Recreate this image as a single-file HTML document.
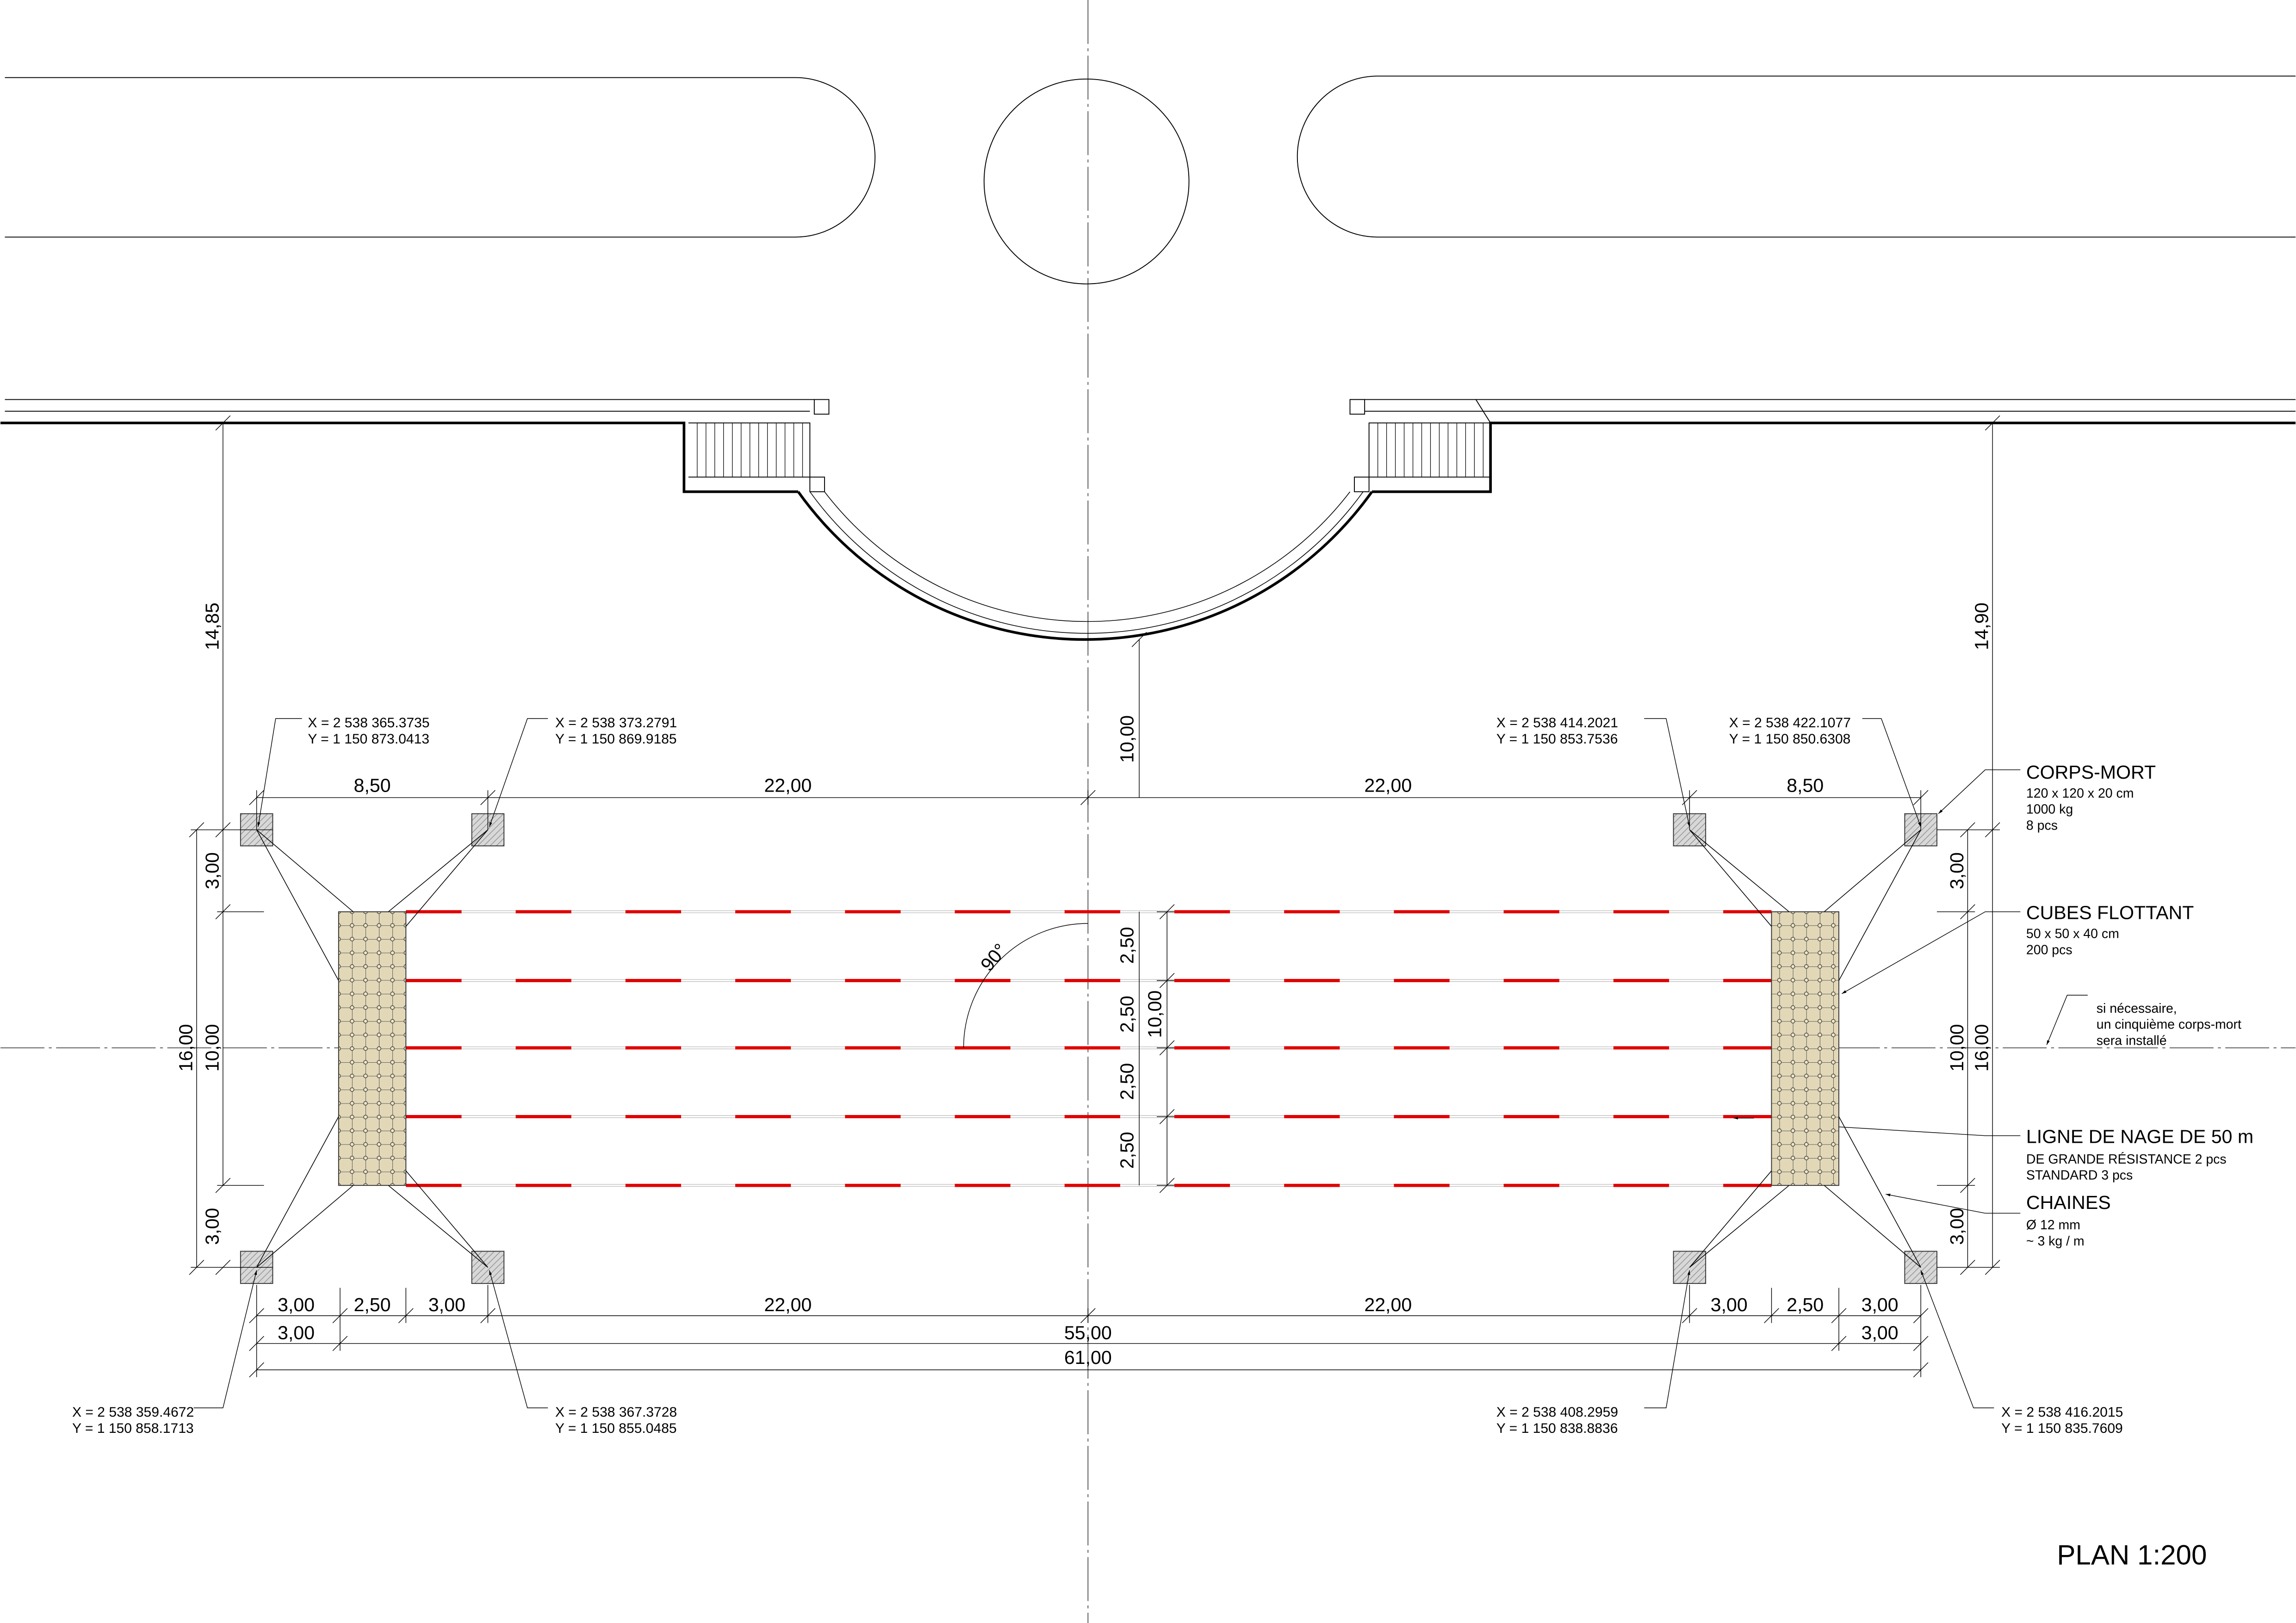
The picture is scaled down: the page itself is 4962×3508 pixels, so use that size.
<!DOCTYPE html>
<html><head><meta charset="utf-8"><style>html,body{margin:0;padding:0;background:#fff}svg{display:block}text{font-family:"Liberation Sans",sans-serif;fill:#000}</style></head>
<body>
<svg width="4962" height="3508" viewBox="0 0 1568 1109" xmlns="http://www.w3.org/2000/svg">
<defs>
<pattern id="hat" width="3" height="3" patternUnits="userSpaceOnUse" patternTransform="rotate(45)">
<rect width="3" height="3" fill="#d8d8d8"/><line x1="0" y1="0" x2="0" y2="3" stroke="#888" stroke-width="0.8"/></pattern>
<pattern id="flt" x="231" y="623" width="9.2" height="9.35" patternUnits="userSpaceOnUse">
<rect width="9.2" height="9.35" fill="#e2d8b8"/>
<path d="M0 0H9.2M0 0V9.35" stroke="#333" stroke-width="0.5"/>
<circle cx="0" cy="0" r="1.3" fill="#efe6c8" stroke="#333" stroke-width="0.4"/>
<circle cx="9.2" cy="0" r="1.3" fill="#efe6c8" stroke="#333" stroke-width="0.4"/>
<circle cx="0" cy="9.35" r="1.3" fill="#efe6c8" stroke="#333" stroke-width="0.4"/>
<circle cx="9.2" cy="9.35" r="1.3" fill="#efe6c8" stroke="#333" stroke-width="0.4"/>
</pattern>
<marker id="ar" viewBox="0 0 10 10" refX="10" refY="5" markerWidth="7" markerHeight="7" orient="auto-start-reverse"><path d="M0 2L10 5L0 8z" fill="#000"/></marker>
</defs>
<g fill="none" stroke="#000" stroke-width="0.6">
<line x1="743" y1="0" x2="743" y2="1109" stroke="#555" stroke-dasharray="30 3 2 3"/>
<line x1="0" y1="716" x2="1568" y2="716" stroke="#555" stroke-dasharray="30 3 2 3"/>
<path d="M3 53H543A54.5 54.5 0 0 1 543 162H3"/>
<path d="M1568 52H941A55 55 0 0 0 941 162H1568"/>
<circle cx="742" cy="124" r="70"/>
<path d="M3 273H556M3 281H553"/>
<path d="M0 289H467V336H545" stroke-width="1.8"/>
<rect x="556" y="273" width="10" height="10"/>
<rect x="553" y="326" width="10" height="10"/>
<path d="M470 289H553V326H470"/>
<path d="M476 289V326M482 289V326M488 289V326M494 289V326M500 289V326M506 289V326M512 289V326M518 289V326M524 289V326M530 289V326M536 289V326M542 289V326M548 289V326" stroke-width="0.4"/>
<path d="M922 273H1568M932 281H1568M1008 273L1018 289"/>
<path d="M1568 289H1018V336H937" stroke-width="1.8"/>
<rect x="922" y="273" width="10" height="10"/>
<rect x="925" y="326" width="10" height="10"/>
<path d="M1018 289H935V326H1018"/>
<path d="M941 289V326M947 289V326M953 289V326M959 289V326M965 289V326M971 289V326M977 289V326M983 289V326M989 289V326M995 289V326M1001 289V326M1007 289V326M1013 289V326" stroke-width="0.4"/>
<path d="M545 336A240.7 240.7 0 0 0 937 336" stroke-width="1.8"/>
<path d="M553 336A233 233 0 0 0 931 336" stroke-width="0.5"/>
<path d="M563 336A226 226 0 0 0 922 336" stroke-width="0.5"/>
</g>
<g>
<g stroke="#bbb" stroke-width="1.8">
<line x1="277" y1="623" x2="1210" y2="623"/><line x1="277" y1="670" x2="1210" y2="670"/><line x1="277" y1="716" x2="1210" y2="716"/><line x1="277" y1="763" x2="1210" y2="763"/><line x1="277" y1="810" x2="1210" y2="810"/>
</g>
<g stroke="#fff" stroke-width="1">
<line x1="277" y1="623" x2="1210" y2="623"/><line x1="277" y1="670" x2="1210" y2="670"/><line x1="277" y1="716" x2="1210" y2="716"/><line x1="277" y1="763" x2="1210" y2="763"/><line x1="277" y1="810" x2="1210" y2="810"/>
</g>
<g stroke="#e00000" stroke-width="2.2" stroke-dasharray="38 37">
<line x1="277" y1="623" x2="1210" y2="623"/><line x1="277" y1="670" x2="1210" y2="670"/><line x1="277" y1="716" x2="1210" y2="716"/><line x1="277" y1="763" x2="1210" y2="763"/><line x1="277" y1="810" x2="1210" y2="810"/>
</g>
</g>
<rect x="231" y="623" width="46" height="187" fill="url(#flt)" stroke="#333" stroke-width="0.6"/>
<rect x="1210" y="623" width="46" height="187" fill="url(#flt)" stroke="#333" stroke-width="0.6"/>
<g fill="url(#hat)" stroke="#333" stroke-width="0.6">
<rect x="164" y="556" width="22" height="22"/><rect x="322" y="556" width="22" height="22"/>
<rect x="164" y="855" width="22" height="22"/><rect x="322" y="855" width="22" height="22"/>
<rect x="1143" y="556" width="22" height="22"/><rect x="1301" y="556" width="22" height="22"/>
<rect x="1143" y="855" width="22" height="22"/><rect x="1301" y="855" width="22" height="22"/>
</g>
<g stroke="#000" stroke-width="0.5" fill="none">
<path d="M241 623L175 567L231 670"/><path d="M265 623L333 567L277 633"/>
<path d="M241 810L175 866L231 763"/><path d="M265 810L333 866L277 800"/>
<path d="M1246 623L1312 567L1256 670"/><path d="M1222 623L1154 567L1210 633"/>
<path d="M1246 810L1312 866L1256 763"/><path d="M1222 810L1154 866L1210 800"/>
</g>
<g stroke="#000" stroke-width="0.45" fill="none">
<path d="M175 545H1312M175 540V567M333 540V567M743 540V550M1154 540V567M1312 540V567"/>
<path d="M170 550l10-10M328 550l10-10M738 550l10-10M1149 550l10-10M1307 550l10-10"/>
<path d="M175 899H1312M175 918H1312M175 936H1312M175 878V941M232 880V923M277 880V904M333 878V904M743 894V904M1154 878V904M1210 880V904M1256 880V923M1312 878V941"/>
<path d="M170 904l10-10M227 904l10-10M272 904l10-10M328 904l10-10M738 904l10-10M1149 904l10-10M1205 904l10-10M1251 904l10-10M1307 904l10-10M170 923l10-10M227 923l10-10M1251 923l10-10M1307 923l10-10M170 941l10-10M1307 941l10-10"/>
<path d="M152 289V810M134 567V866M130 567H186M148 623H180M148 810H180M130 866H186M152 289H164"/>
<path d="M147 294l10-10M147 572l10-10M129 572l10-10M147 628l10-10M147 815l10-10M129 871l10-10M147 871l10-10"/>
<path d="M1361 289V567M1344 567V866M1361 567V866M1323 567H1366M1323 866H1366M1323 623H1349M1323 810H1349M1018 289H1366"/>
<path d="M1356 294l10-10M1356 572l10-10M1339 572l10-10M1339 628l10-10M1339 815l10-10M1356 871l10-10M1339 871l10-10"/>
<path d="M778 437V545M797 623V810M778 623V810M790 623H802M790 670H802M790 716H802M790 763H802M790 810H802"/>
<path d="M773 442l10-10M792 628l10-10M792 675l10-10M792 721l10-10M792 768l10-10M792 815l10-10"/>
<path d="M658 716A85 85 0 0 1 743 631"/>
</g>
<g font-size="13" text-anchor="middle">
<text x="254" y="541">8,50</text><text x="538" y="541">22,00</text><text x="948" y="541">22,00</text><text x="1233" y="541">8,50</text>
<text x="202" y="896">3,00</text><text x="254" y="896">2,50</text><text x="305" y="896">3,00</text><text x="538" y="896">22,00</text><text x="948" y="896">22,00</text><text x="1181" y="896">3,00</text><text x="1233" y="896">2,50</text><text x="1284" y="896">3,00</text>
<text x="202" y="915">3,00</text><text x="743" y="915">55,00</text><text x="1284" y="915">3,00</text>
<text x="743" y="932">61,00</text>
<text transform="translate(149,428) rotate(-90)">14,85</text>
<text transform="translate(149,595) rotate(-90)">3,00</text>
<text transform="translate(149,716) rotate(-90)">10,00</text>
<text transform="translate(131,716) rotate(-90)">16,00</text>
<text transform="translate(149,838) rotate(-90)">3,00</text>
<text transform="translate(1358,428) rotate(-90)">14,90</text>
<text transform="translate(1341,595) rotate(-90)">3,00</text>
<text transform="translate(1341,716) rotate(-90)">10,00</text>
<text transform="translate(1358,716) rotate(-90)">16,00</text>
<text transform="translate(1341,838) rotate(-90)">3,00</text>
<text transform="translate(774,505) rotate(-90)">10,00</text>
<text transform="translate(774,646) rotate(-90)">2,50</text>
<text transform="translate(774,693) rotate(-90)">2,50</text>
<text transform="translate(793,693) rotate(-90)">10,00</text>
<text transform="translate(774,739) rotate(-90)">2,50</text>
<text transform="translate(774,786) rotate(-90)">2,50</text>
<text transform="translate(682,657) rotate(-50)">90°</text>
</g>
<g stroke="#000" stroke-width="0.45" fill="none">
<path d="M206 491H188L176 565" marker-end="url(#ar)"/>
<path d="M374 491H360L334 565" marker-end="url(#ar)"/>
<path d="M1123 491H1138L1154 565" marker-end="url(#ar)"/>
<path d="M1272 491H1285L1312 565" marker-end="url(#ar)"/>
<path d="M132 962H152L175 868" marker-end="url(#ar)"/>
<path d="M374 962H360L334 868" marker-end="url(#ar)"/>
<path d="M1123 962H1138L1154 868" marker-end="url(#ar)"/>
<path d="M1362 962H1348L1312 868" marker-end="url(#ar)"/>
<path d="M1380 526H1356L1324 556" marker-end="url(#ar)"/>
<path d="M1380 623H1356L1258 679" marker-end="url(#ar)"/>
<path d="M1426 680H1412L1398 714" marker-end="url(#ar)"/>
<path d="M1380 776H1356L1256 770"/>
<path d="M1380 829H1356L1288 816" marker-end="url(#ar)"/>
<path d="M1198 764L1184 764" marker-end="url(#ar)"/>
</g>
<g font-size="9.5">
<text x="210" y="497">X = 2 538 365.3735</text><text x="210" y="508">Y = 1 150 873.0413</text>
<text x="379" y="497">X = 2 538 373.2791</text><text x="379" y="508">Y = 1 150 869.9185</text>
<text x="1022" y="497">X = 2 538 414.2021</text><text x="1022" y="508">Y = 1 150 853.7536</text>
<text x="1181" y="497">X = 2 538 422.1077</text><text x="1181" y="508">Y = 1 150 850.6308</text>
<text x="49" y="968">X = 2 538 359.4672</text><text x="49" y="979">Y = 1 150 858.1713</text>
<text x="379" y="968">X = 2 538 367.3728</text><text x="379" y="979">Y = 1 150 855.0485</text>
<text x="1022" y="968">X = 2 538 408.2959</text><text x="1022" y="979">Y = 1 150 838.8836</text>
<text x="1367" y="968">X = 2 538 416.2015</text><text x="1367" y="979">Y = 1 150 835.7609</text>
</g>
<g font-size="13">
<text x="1384" y="532">CORPS-MORT</text>
<text x="1384" y="628">CUBES FLOTTANT</text>
<text x="1384" y="781">LIGNE DE NAGE DE 50 m</text>
<text x="1384" y="826">CHAINES</text>
</g>
<g font-size="9">
<text x="1384" y="545">120 x 120 x 20 cm</text><text x="1384" y="556">1000 kg</text><text x="1384" y="567">8 pcs</text>
<text x="1384" y="641">50 x 50 x 40 cm</text><text x="1384" y="652">200 pcs</text>
<text x="1432" y="692">si nécessaire,</text><text x="1432" y="703">un cinquième corps-mort</text><text x="1432" y="714">sera installé</text>
<text x="1384" y="795">DE GRANDE RÉSISTANCE 2 pcs</text><text x="1384" y="806">STANDARD 3 pcs</text>
<text x="1384" y="840">Ø 12 mm</text><text x="1384" y="851">~ 3 kg / m</text>
</g>
<text x="1405" y="1069" font-size="19">PLAN 1:200</text>
</svg>
</body></html>
